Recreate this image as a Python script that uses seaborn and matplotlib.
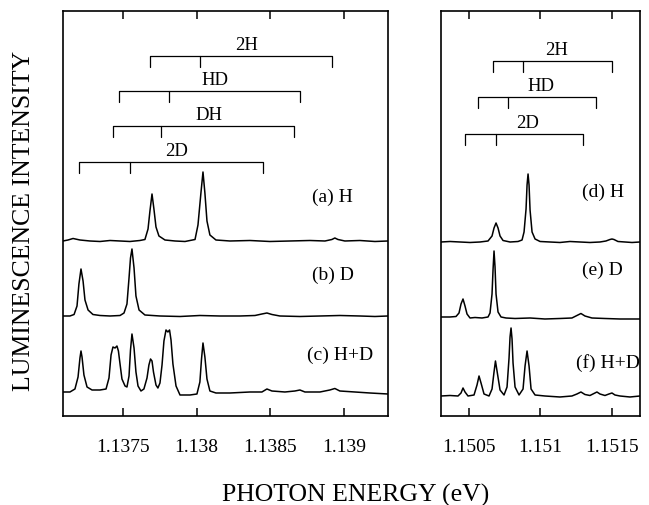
"""Luminescence spectra of H / D isotope mixtures with the isotope-shift combs."""

import matplotlib

matplotlib.use("Agg")
import matplotlib.pyplot as plt
import pandas as pd
import seaborn as sns

# ---------------------------------------------------------------------------
# left window (1.1371 - 1.1393 eV)
# ---------------------------------------------------------------------------
energy_a = [1.137093, 1.137127, 1.137161, 1.137208, 1.137276, 1.137344, 1.137412,
            1.137480, 1.137547, 1.137615, 1.137649, 1.137670, 1.137683, 1.137697,
            1.137710, 1.137724, 1.137744, 1.137785, 1.137853, 1.137921, 1.137989,
            1.138009, 1.138029, 1.138043, 1.138056, 1.138070, 1.138090, 1.138131,
            1.138226, 1.138362, 1.138497, 1.138633, 1.138769, 1.138871, 1.138918,
            1.138938, 1.138959, 1.139006, 1.139108, 1.139210, 1.139298]
intensity_a = [0, 1, 2.5, 1, 0, -0.5, 0.5, 0, -0.5, 0.5, 1.5, 12, 30, 47, 32, 14, 5, 1,
               0, -0.5, 1.5, 16, 48, 69, 48, 20, 6, 1, 0, 0.5, -0.5, 0, 0.5, 0, 1.5,
               3, 1.5, 0, 0.5, -0.5, 0]

energy_b = [1.137093, 1.137140, 1.137168, 1.137188, 1.137201, 1.137215, 1.137229,
            1.137242, 1.137263, 1.137296, 1.137344, 1.137412, 1.137480, 1.137507,
            1.137527, 1.137541, 1.137551, 1.137561, 1.137575, 1.137588, 1.137609,
            1.137649, 1.137751, 1.137887, 1.138022, 1.138158, 1.138294, 1.138396,
            1.138443, 1.138477, 1.138511, 1.138565, 1.138701, 1.138837, 1.138972,
            1.139108, 1.139210, 1.139298]
intensity_b = [0, 0, 1.5, 10, 32, 47, 35, 16, 6, 1.5, 0.5, 0, 0.5, 3, 12, 38, 58, 67,
               48, 20, 6, 1, 0, -0.5, 0.5, 0, 0, 0.5, 2, 3, 1.5, 0, -0.5, 0, 0.5, 0,
               -0.5, 0]

energy_c = [1.137093, 1.137140, 1.137174, 1.137195, 1.137208, 1.137215, 1.137222,
            1.137235, 1.137256, 1.137290, 1.137344, 1.137385, 1.137405, 1.137419,
            1.137432, 1.137446, 1.137459, 1.137469, 1.137480, 1.137493, 1.137514,
            1.137527, 1.137541, 1.137551, 1.137561, 1.137575, 1.137588, 1.137602,
            1.137622, 1.137642, 1.137663, 1.137676, 1.137687, 1.137697, 1.137707,
            1.137724, 1.137737, 1.137751, 1.137765, 1.137778, 1.137792, 1.137805,
            1.137816, 1.137826, 1.137839, 1.137860, 1.137887, 1.137955, 1.138002,
            1.138022, 1.138033, 1.138043, 1.138056, 1.138070, 1.138090, 1.138131,
            1.138226, 1.138362, 1.138443, 1.138477, 1.138511, 1.138599, 1.138667,
            1.138701, 1.138735, 1.138837, 1.138904, 1.138938, 1.138972, 1.139074,
            1.139176, 1.139298]
intensity_c = [0, 0, 3, 15, 34, 41, 35, 17, 5, 2, 2, 3, 14, 37, 45, 44, 46, 41, 28,
               13, 6, 5, 16, 42, 58, 44, 20, 6, 1, 3, 14, 27, 33, 31, 20, 7, 4, 9,
               27, 51, 62, 60, 62, 52, 28, 6, -3, -3, -2, 10, 33, 49, 35, 13, 1, -1,
               -1, 0, 0, 3, 1, 0, 1, 2, 0, 0, 2, 3.5, 1, 0, -1, -2]

# ---------------------------------------------------------------------------
# right window (1.1503 - 1.1517 eV)
# ---------------------------------------------------------------------------
energy_d = [1.150304, 1.150367, 1.150437, 1.150507, 1.150577, 1.150633, 1.150661,
            1.150675, 1.150689, 1.150703, 1.150717, 1.150738, 1.150787, 1.150843,
            1.150871, 1.150885, 1.150899, 1.150906, 1.150913, 1.150920, 1.150927,
            1.150941, 1.150962, 1.150997, 1.151066, 1.151136, 1.151206, 1.151276,
            1.151346, 1.151416, 1.151458, 1.151486, 1.151500, 1.151514, 1.151542,
            1.151591, 1.151640, 1.151696]
intensity_d = [0, 0.5, 0, -0.5, 0, 1, 6, 14, 19, 14, 6, 1.5, 0, 0.5, 2, 10, 33, 57, 68,
               57, 32, 10, 3, 0.5, 0, -0.5, 0.5, 0, -0.5, 0, 1, 2.5, 3, 2.5, 0.5, 0,
               -0.5, 0]

energy_e = [1.150304, 1.150367, 1.150409, 1.150430, 1.150444, 1.150458, 1.150472,
            1.150486, 1.150507, 1.150542, 1.150591, 1.150633, 1.150647, 1.150661,
            1.150668, 1.150675, 1.150682, 1.150689, 1.150703, 1.150724, 1.150759,
            1.150822, 1.150927, 1.151031, 1.151136, 1.151220, 1.151255, 1.151283,
            1.151311, 1.151360, 1.151451, 1.151556, 1.151696]
intensity_e = [0, 0, 0.5, 4, 13, 18, 11, 3, -1, -0.5, -1, 0, 4, 23, 47, 66, 50, 23,
               5, 0, -1, -1.5, -1, -2, -1.5, -1, 1.5, 3.5, 1, -1, -1.5, -2, -2]

energy_f = [1.150304, 1.150367, 1.150423, 1.150444, 1.150458, 1.150472, 1.150493,
            1.150535, 1.150556, 1.150570, 1.150584, 1.150605, 1.150640, 1.150661,
            1.150675, 1.150685, 1.150696, 1.150717, 1.150745, 1.150766, 1.150780,
            1.150787, 1.150794, 1.150801, 1.150808, 1.150822, 1.150850, 1.150878,
            1.150892, 1.150906, 1.150920, 1.150934, 1.150962, 1.151031, 1.151136,
            1.151220, 1.151255, 1.151283, 1.151311, 1.151346, 1.151374, 1.151395,
            1.151416, 1.151451, 1.151479, 1.151500, 1.151521, 1.151556, 1.151626,
            1.151696]
intensity_f = [0, 0.5, 0, 3, 8, 4, 0, 1, 11, 20, 13, 2, 0, 7, 24, 35, 25, 6, 1, 9,
               38, 59, 68, 57, 33, 9, 1, 7, 30, 45, 30, 7, 1, 0, -1, 0, 2, 4, 1.5,
               0.5, 2.5, 4, 2, 0.5, 2, 3, 1, 0, -1, 0]

# isotope combs: (label, low, middle, high) energies in eV
combs_left = [("2H", 1.13768, 1.13802, 1.13892),
              ("HD", 1.13747, 1.13781, 1.13870),
              ("DH", 1.13743, 1.13776, 1.13866),
              ("2D", 1.13720, 1.13755, 1.13845)]
combs_right = [("2H", 1.15067, 1.15088, 1.15150),
               ("HD", 1.15056, 1.15077, 1.15139),
               ("2D", 1.15047, 1.15069, 1.15130)]

ticks_left = [1.1375, 1.138, 1.1385, 1.139]
ticklabels_left = ["1.1375", "1.138", "1.1385", "1.139"]
ticks_right = [1.1505, 1.151, 1.1515]
ticklabels_right = ["1.1505", "1.151", "1.1515"]

# ---------------------------------------------------------------------------
sns.set_theme(style="ticks")
plt.rcParams["font.family"] = ["Liberation Serif", "DejaVu Serif"]
plt.rcParams["text.color"] = "black"

fig = plt.figure(figsize=(6.49, 5.06), dpi=100)
ax_l = fig.add_axes([0.0971, 0.1759, 0.5008, 0.8004])
ax_r = fig.add_axes([0.6795, 0.1759, 0.3066, 0.8004])


def draw_trace(ax, energy, intensity, offset):
    df = pd.DataFrame({"energy": energy, "intensity": [v + offset for v in intensity]})
    sns.lineplot(data=df, x="energy", y="intensity", estimator=None, sort=False,
                 color="black", linewidth=1.1, ax=ax)


def draw_combs(ax, combs, levels):
    for (name, lo, mid, hi), level in zip(combs, levels):
        ax.plot([lo, lo, hi, hi], [level - 11, level, level, level - 11],
                color="black", linewidth=0.9)
        ax.plot([mid, mid], [level, level - 11], color="black", linewidth=0.9)
        ax.text((lo + hi) / 2 + (hi - lo) * 0.03, level + 11.5, name,
                ha="center", va="center", fontsize=13.5, color="black")


def style_axes(ax, xlim, ticks, labels):
    ax.set_xlim(*xlim)
    ax.set_ylim(0, 405)
    ax.set_xticks(ticks)
    ax.set_xticklabels(labels)
    ax.set_yticks([])
    ax.set_xlabel("")
    ax.set_ylabel("")
    ax.tick_params(axis="x", direction="in", top=True, bottom=True, length=6,
                   width=1.1, pad=16, labelsize=14, colors="black")
    for spine in ax.spines.values():
        spine.set_visible(True)
        spine.set_linewidth(1.2)
        spine.set_color("black")


# left window
draw_trace(ax_l, energy_a, intensity_a, 175)
draw_trace(ax_l, energy_b, intensity_b, 100)
draw_trace(ax_l, energy_c, intensity_c, 24)
draw_combs(ax_l, combs_left, [360, 325, 290, 254])
ax_l.text(1.13878, 220, "(a) H", fontsize=14, va="center", color="black")
ax_l.text(1.13878, 142, "(b) D", fontsize=14, va="center", color="black")
ax_l.text(1.13875, 62, "(c) H+D", fontsize=14, va="center", color="black")
style_axes(ax_l, (1.137093, 1.139299), ticks_left, ticklabels_left)

# right window
draw_trace(ax_r, energy_d, intensity_d, 174)
draw_trace(ax_r, energy_e, intensity_e, 99)
draw_trace(ax_r, energy_f, intensity_f, 20)
draw_combs(ax_r, combs_right, [355, 319, 282])
ax_r.text(1.15129, 225, "(d) H", fontsize=14, va="center", color="black")
ax_r.text(1.15129, 147, "(e) D", fontsize=14, va="center", color="black")
ax_r.text(1.15125, 54, "(f) H+D", fontsize=14, va="center", color="black")
style_axes(ax_r, (1.150304, 1.151696), ticks_right, ticklabels_right)

fig.text(24 / 649, 1 - 221 / 506, "LUMINESCENCE INTENSITY", rotation=90,
         ha="center", va="center", fontsize=18.5, color="black")
fig.text(356 / 649, 1 - 495 / 506, "PHOTON ENERGY (eV)",
         ha="center", va="center", fontsize=18.5, color="black")

fig.savefig("out.png", dpi=100)
